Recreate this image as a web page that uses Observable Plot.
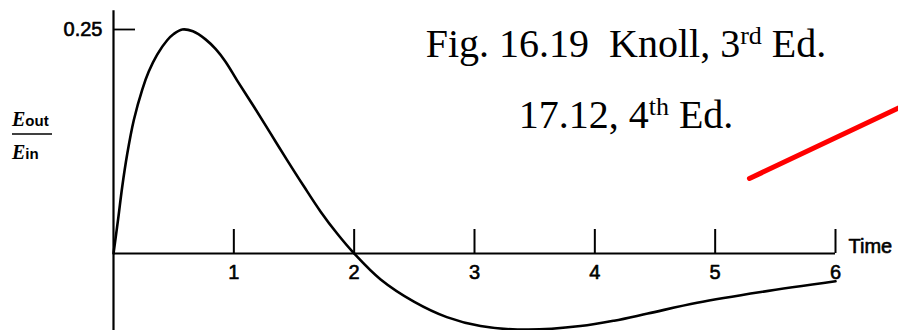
<!DOCTYPE html>
<html>
<head>
<meta charset="utf-8">
<script src="https://cdn.jsdelivr.net/npm/d3@7"></script>
<script src="https://cdn.jsdelivr.net/npm/@observablehq/plot@0.6"></script>
<style>
  html, body { margin: 0; padding: 0; background: #fff; }
  #chart svg { display: block; }
</style>
</head>
<body>
<div id="chart"></div>
<script>
// Bipolar pulse response of a CR-RC-CR shaper: output/input ratio versus time
const time = [0, 0.039, 0.072, 0.114, 0.169, 0.239, 0.293, 0.363, 0.446, 0.5, 0.571,
  0.66, 0.765, 0.85, 0.931, 1.028, 1.166, 1.305, 1.444, 1.582, 1.72, 1.86, 2.0,
  2.22, 2.5, 2.77, 3.05, 3.44, 3.88, 4.16, 4.44, 4.85, 5.38, 6.0];
const response = [0, 0.039, 0.074, 0.111, 0.149, 0.183, 0.203, 0.222, 0.238, 0.245, 0.25,
  0.248, 0.239, 0.228, 0.214, 0.193, 0.164, 0.134, 0.104, 0.075, 0.047, 0.022, 0,
  -0.029, -0.054, -0.071, -0.081, -0.085, -0.081, -0.075, -0.067, -0.055, -0.043, -0.031];

// Axis ticks and labels
const xTicks = [1, 2, 3, 4, 5, 6];
const xTickLabels = ["1", "2", "3", "4", "5", "6"];
const yTicks = [0.25];
const yTickLabels = ["0.25"];
const xAxisLabel = "Time";

// Extent of the drawn vertical axis and length of the tick strokes (data units)
const yAxisExtent = [-0.1, 0.271];
const xTickLength = 0.0268;
const yTickLength = 0.183;

// Red pointer line (annotation)
const pointerTime = [5.285, 6.53];
const pointerValue = [0.0837, 0.1627];

const curve = time.map((t, i) => ({t, v: response[i]}));
const pointer = pointerTime.map((t, i) => ({t, v: pointerValue[i]}));

const labelFont = {fill: "#000", stroke: "#000", strokeWidth: 0.6};

const chart = Plot.plot({
  width: 898,
  height: 330,
  margin: 0,
  x: {domain: [0, 6], range: [113, 835], axis: null},
  y: {domain: [0, 0.25], range: [253, 29], axis: null},
  style: {background: "#fff", fontFamily: "'Liberation Sans', Arial, sans-serif", color: "#000"},
  marks: [
    // axes
    Plot.ruleX([0], {y1: yAxisExtent[0], y2: yAxisExtent[1], stroke: "#000", strokeWidth: 2.2}),
    Plot.ruleY([0], {x1: 0, x2: 6, stroke: "#000", strokeWidth: 2}),
    Plot.ruleX(xTicks, {x: d => d, y1: 0, y2: xTickLength, stroke: "#000", strokeWidth: 2}),
    Plot.ruleY(yTicks, {y: d => d, x1: 0, x2: yTickLength, stroke: "#000", strokeWidth: 1.8}),
    Plot.text(xTicks, {x: d => d, y: 0, text: (d, i) => xTickLabels[i], dy: 19, fontSize: 20, ...labelFont}),
    Plot.text(yTicks, {x: 0, y: d => d, text: (d, i) => yTickLabels[i], dx: -11, textAnchor: "end", fontSize: 20, ...labelFont}),
    Plot.text([xAxisLabel], {x: 6, y: 0, text: d => d, dx: 13, dy: -7, textAnchor: "start", fontSize: 20, ...labelFont}),
    // response curve
    Plot.line(curve, {x: "t", y: "v", curve: "catmull-rom", stroke: "#000", strokeWidth: 2.6}),
    // pointer
    Plot.line(pointer, {x: "t", y: "v", stroke: "#ff0000", strokeWidth: 5})
  ]
});

document.getElementById("chart").appendChild(chart);

const svg = d3.select(chart);

// Figure reference, two centred lines with superscript ordinals
const serif = "'Liberation Serif', 'Times New Roman', serif";
function refLine(y, main, sup, tail) {
  const t = svg.append("text")
    .attr("x", 626).attr("y", y)
    .attr("text-anchor", "middle")
    .attr("font-family", serif)
    .attr("font-size", 40)
    .attr("fill", "#000");
  t.append("tspan").text(main);
  t.append("tspan").attr("font-size", 26).attr("dy", -13).text(sup);
  t.append("tspan").attr("dy", 13).text(tail);
}
refLine(57, "Fig. 16.19\u00a0\u00a0Knoll, 3", "rd", " Ed.");
refLine(128, "17.12, 4", "th", " Ed.");

// Vertical axis label: E_out / E_in
function ratioPart(y, sub) {
  const t = svg.append("text")
    .attr("x", 12).attr("y", y)
    .attr("text-anchor", "start")
    .attr("fill", "#000");
  t.append("tspan")
    .attr("font-family", serif).attr("font-style", "italic").attr("font-weight", "bold")
    .attr("font-size", 20).text("E");
  t.append("tspan")
    .attr("font-family", "'Liberation Sans', Arial, sans-serif").attr("font-weight", "bold")
    .attr("font-size", 15).text(sub);
}
ratioPart(126, "out");
svg.append("line")
  .attr("x1", 12).attr("x2", 52).attr("y1", 134).attr("y2", 134)
  .attr("stroke", "#000").attr("stroke-width", 1.6);
ratioPart(159, "in");
</script>
</body>
</html>
